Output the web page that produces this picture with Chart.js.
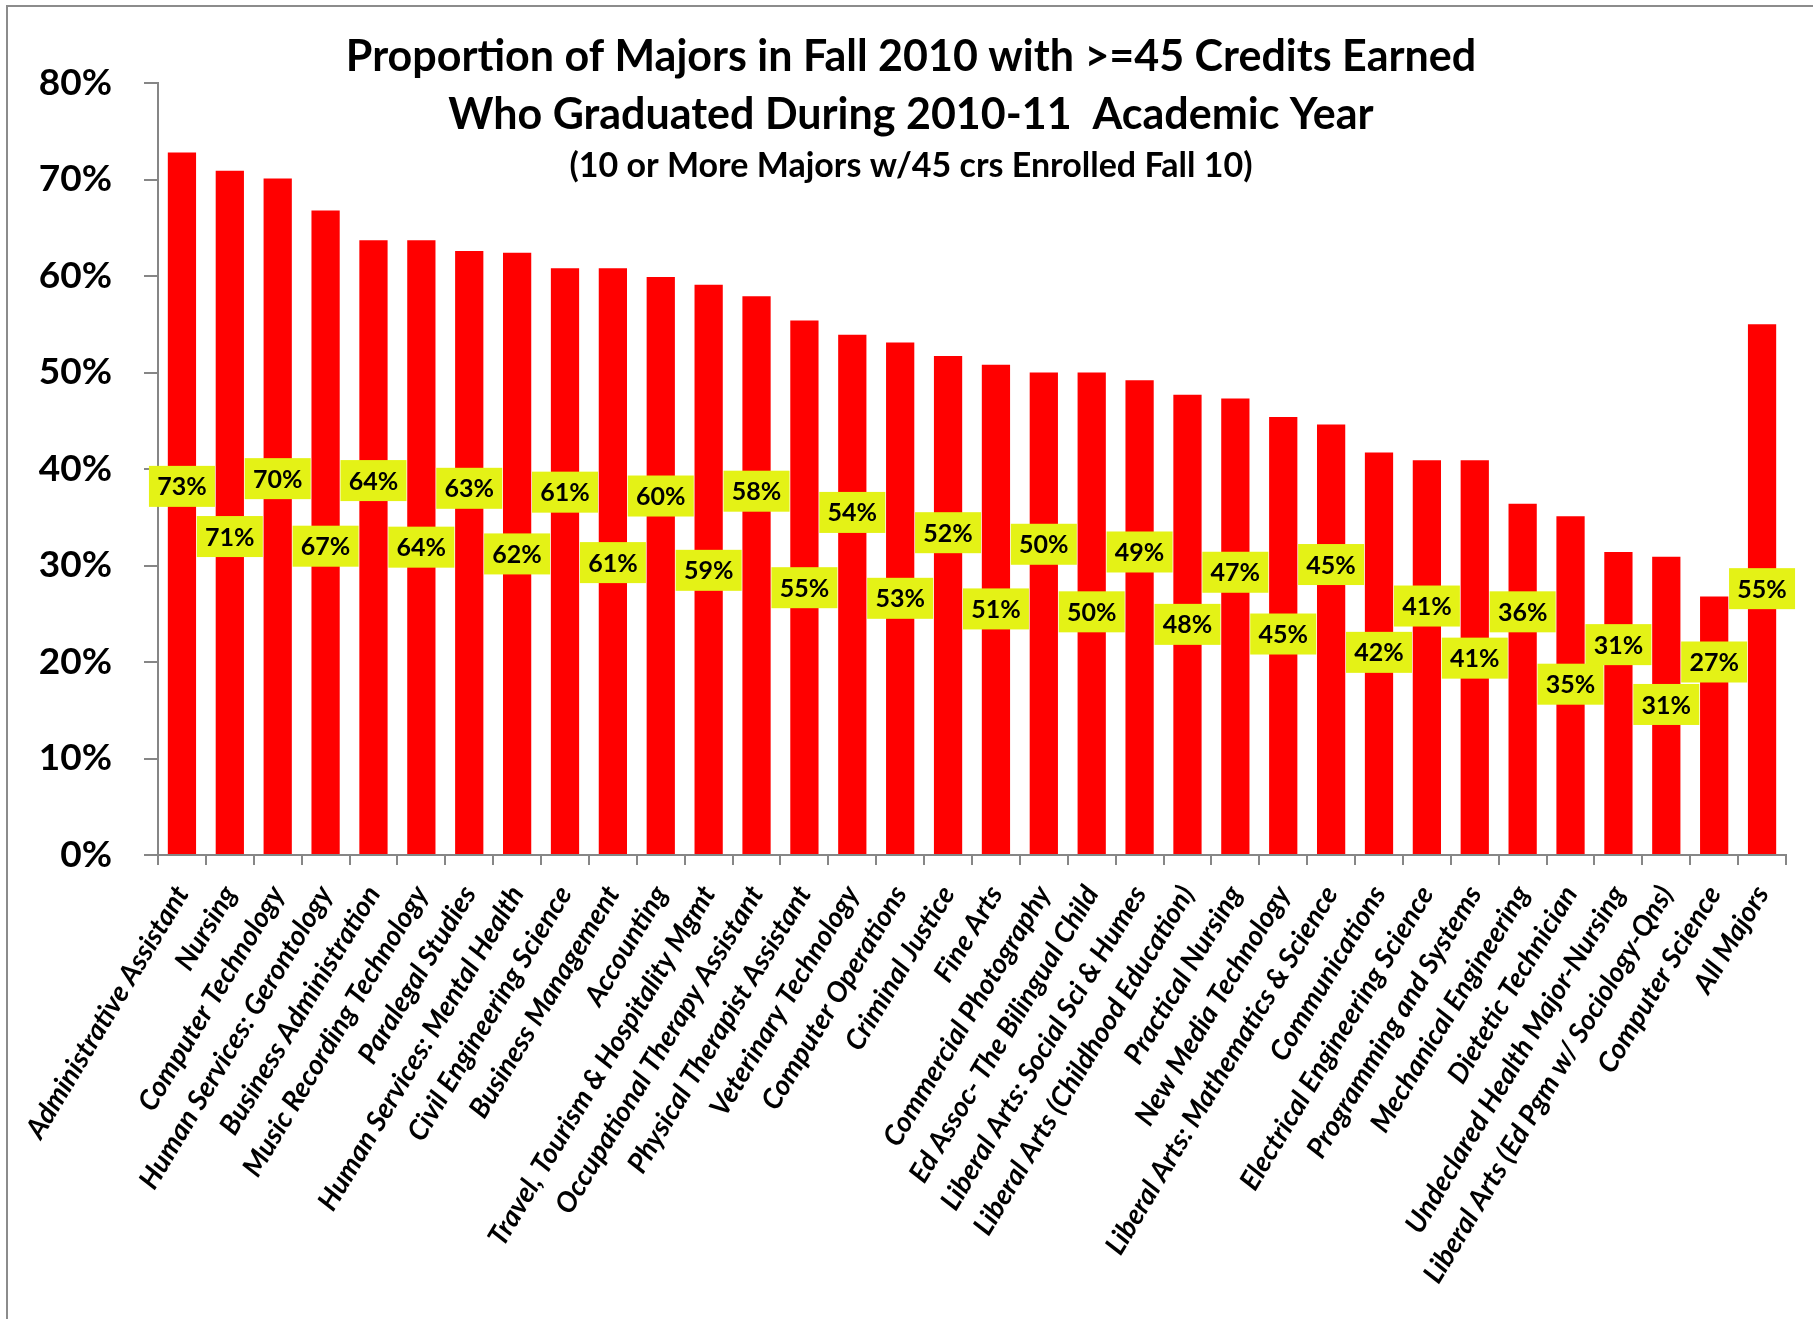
<!DOCTYPE html>
<html>
<head>
<meta charset="utf-8">
<script src="https://cdn.jsdelivr.net/npm/chart.js@4.4.1/dist/chart.umd.min.js"></script>
<style>
  html, body { margin: 0; padding: 0; background: #fff; }
  #wrap { width: 1813px; height: 1319px; }
</style>
</head>
<body>
<div id="wrap"><canvas id="gradChart" width="1813" height="1319"></canvas></div>
<script>
const majors = [
    'Administrative Assistant', 'Nursing', 'Computer Technology', 'Human Services: Gerontology',
    'Business Administration', 'Music Recording Technology', 'Paralegal Studies',
    'Human Services: Mental Health', 'Civil Engineering Science', 'Business Management',
    'Accounting', 'Travel, Tourism & Hospitality Mgmt', 'Occupational Therapy Assistant',
    'Physical Therapist Assistant', 'Veterinary Technology', 'Computer Operations',
    'Criminal Justice', 'Fine Arts', 'Commercial Photography', 'Ed Assoc- The Bilingual Child',
    'Liberal Arts: Social Sci & Humes', 'Liberal Arts (Childhood Education)', 'Practical Nursing',
    'New Media Technology', 'Liberal Arts: Mathematics & Science', 'Communications',
    'Electrical Engineering Science', 'Programming and Systems', 'Mechanical Engineering',
    'Dietetic Technician', 'Undeclared Health Major-Nursing', 'Liberal Arts (Ed Pgm w/ Sociology-Qns)',
    'Computer Science', 'All Majors'
];

// percent of majors who graduated
const gradRates = [
    72.8, 70.9, 70.1, 66.8, 63.7, 63.7, 62.6, 62.4, 60.8, 60.8,
    59.9, 59.1, 57.9, 55.4, 53.9, 53.1, 51.7, 50.8, 50.0, 50.0,
    49.2, 47.7, 47.3, 45.4, 44.6, 41.7, 40.9, 40.9, 36.4, 35.1,
    31.4, 30.9, 26.8, 55.0
];

// where each value box sits, in axis units (%)
const labelSpots = [
    38.2, 33.0, 39.0, 32.0, 38.8, 31.9, 38.0, 31.2, 37.6, 30.3,
    37.2, 29.5, 37.7, 27.7, 35.5, 26.6, 33.4, 25.5, 32.2, 25.2,
    31.4, 23.9, 29.3, 22.9, 30.1, 21.0, 25.8, 20.4, 25.2, 17.7,
    21.8, 15.6, 20.0, 27.6
];

const yMax = 80;
const yStep = 10;

const titleLines = [
    'Proportion of Majors in Fall 2010 with >=45 Credits Earned',
    'Who Graduated During 2010-11  Academic Year',
    '(10 or More Majors w/45 crs Enrolled Fall 10)'
];

const axisGray = '#868686';
const fontName = 'Lato';

// white page + the thin outer frame
const framePlugin = {
    id: 'frame',
    beforeDraw(chart) {
        const ctx = chart.ctx;
        ctx.save();
        ctx.fillStyle = '#fff';
        ctx.fillRect(0, 0, chart.width, chart.height);
        ctx.strokeStyle = '#8c8c8c';
        ctx.lineWidth = 2;
        ctx.beginPath();
        ctx.moveTo(7, chart.height);
        ctx.lineTo(7, 6);
        ctx.lineTo(chart.width, 6);
        ctx.stroke();
        ctx.restore();
    }
};

// title sits over the plot area, like the Excel original
const titlePlugin = {
    id: 'overTitle',
    afterDraw(chart) {
        const ctx = chart.ctx;
        const cx = 911;
        ctx.save();
        ctx.fillStyle = '#000';
        ctx.textAlign = 'center';
        ctx.textBaseline = 'alphabetic';
        ctx.font = `bold 43px ${fontName}`;
        ctx.fillText(titleLines[0], cx, 71);
        ctx.fillText(titleLines[1], cx, 129);
        ctx.font = `bold 34px ${fontName}`;
        ctx.fillText(titleLines[2], cx, 177);
        ctx.restore();
    }
};

// yellow value boxes
const valueBoxes = {
    id: 'valueBoxes',
    afterDatasetsDraw(chart) {
        const ctx = chart.ctx;
        const meta = chart.getDatasetMeta(0);
        const yScale = chart.scales.y;
        ctx.save();
        ctx.font = `bold 25px ${fontName}`;
        ctx.textAlign = 'center';
        ctx.textBaseline = 'middle';
        meta.data.forEach((bar, i) => {
            const cy = yScale.getPixelForValue(labelSpots[i]);
            const w = 66, h = 41;
            ctx.fillStyle = '#e4f216';
            ctx.fillRect(bar.x - w / 2, cy - h / 2, w, h);
            ctx.fillStyle = '#000';
            ctx.fillText(Math.round(gradRates[i]) + '%', bar.x, cy + 1);
        });
        ctx.restore();
    }
};

const ctx = document.getElementById('gradChart').getContext('2d');

new Chart(ctx, {
    type: 'bar',
    data: {
        labels: majors,
        datasets: [{
            data: gradRates,
            backgroundColor: '#ff0000',
            borderWidth: 0,
            barPercentage: 0.59,
            categoryPercentage: 1.0
        }]
    },
    options: {
        responsive: false,
        animation: false,
        layout: { padding: { top: 83, right: 27, left: 0, bottom: 0 } },
        plugins: {
            legend: { display: false },
            tooltip: { enabled: false },
            title: { display: false }
        },
        scales: {
            x: {
                grid: { drawOnChartArea: false, offset: true, tickLength: 10, color: axisGray, lineWidth: 2 },
                border: { color: axisGray, width: 2 },
                ticks: {
                    autoSkip: false,
                    minRotation: 59,
                    maxRotation: 59,
                    padding: 15,
                    color: '#000',
                    font: { family: fontName, weight: 'bold', style: 'italic', size: 28 }
                },
                afterFit(scale) { scale.height = 464; }
            },
            y: {
                min: 0,
                max: yMax,
                grid: { drawOnChartArea: false, tickLength: 14, color: axisGray, lineWidth: 2 },
                border: { color: axisGray, width: 2 },
                ticks: {
                    stepSize: yStep,
                    padding: 32,
                    color: '#000',
                    font: { family: fontName, weight: 'bold', size: 37 },
                    callback: v => v + '%'
                },
                afterFit(scale) { scale.width = 158; }
            }
        }
    },
    plugins: [framePlugin, valueBoxes, titlePlugin]
});
</script>
</body>
</html>
